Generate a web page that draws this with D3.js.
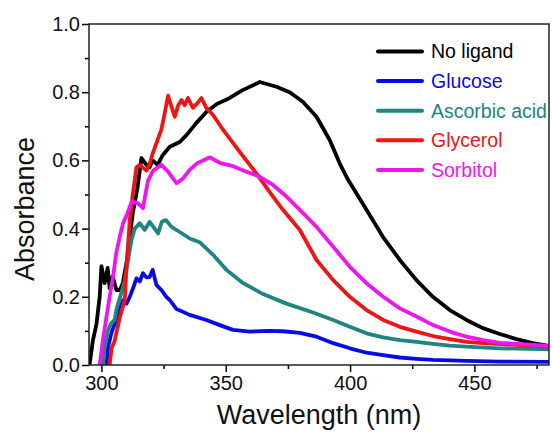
<!DOCTYPE html>
<html><head><meta charset="utf-8">
<script src="https://cdn.jsdelivr.net/npm/d3@7"></script>
<style>
html,body{margin:0;padding:0;background:#fff;}
svg{display:block;font-family:"Liberation Sans",Arial,sans-serif;}
</style></head>
<body><svg id="c" width="552" height="434"></svg>
<script>
// ---- data ----
const seriesNames = ["No ligand","Glucose","Ascorbic acid","Glycerol","Sorbitol"];
const seriesColors = ["#000000","#0a0ae6","#1e8580","#ee1515","#ee15ee"];

const noLigandWl  = [295.3,296.6,298.0,299.3,300.0,301.3,302.5,303.3,304.5,306.0,307.4,308.6,310.1,311.4,312.6,313.5,314.5,316.1,318.1,319.4,320.6,322.6,324.7,327.5,331.5,334.2,338.2,342.2,346.3,351.6,356.8,363.7,370.4,375.7,381.0,386.5,391.8,395.9,399.2,406.6,413.2,420.0,426.7,433.3,440.1,446.8,453.4,460.2,466.9,473.5,479.9];
const noLigandAbs = [0.005,0.073,0.12,0.20,0.29,0.24,0.285,0.225,0.26,0.22,0.22,0.24,0.30,0.375,0.445,0.48,0.52,0.607,0.587,0.58,0.60,0.587,0.616,0.64,0.654,0.674,0.71,0.742,0.765,0.783,0.806,0.83,0.816,0.80,0.772,0.728,0.66,0.59,0.543,0.455,0.376,0.308,0.249,0.20,0.161,0.132,0.108,0.091,0.076,0.064,0.056];

const glucoseWl  = [302.0,302.7,304.0,304.7,306.0,307.4,308.7,310.1,311.4,312.7,314.1,315.4,316.7,318.1,319.4,320.6,322.1,324.1,326.1,327.5,330.2,335.5,342.2,347.6,352.9,359.7,367.7,373.0,379.8,386.5,393.2,399.9,406.6,413.3,420.0,426.7,433.4,446.8,460.2,479.9];
const glucoseAbs = [0.0,0.054,0.093,0.108,0.132,0.168,0.19,0.18,0.20,0.225,0.254,0.245,0.269,0.257,0.258,0.279,0.235,0.22,0.20,0.19,0.164,0.147,0.132,0.117,0.103,0.098,0.10,0.099,0.094,0.083,0.064,0.049,0.036,0.029,0.022,0.018,0.015,0.012,0.010,0.009];

const ascorbicWl  = [300.6,301.3,302.7,304.0,305.3,306.0,306.7,308.0,309.4,310.7,312.1,313.4,315.4,317.4,319.4,321.4,322.8,324.3,325.9,328.2,331.5,335.5,339.5,344.9,350.3,357.0,365.0,374.4,385.1,393.2,399.9,406.6,413.3,420.0,426.7,433.4,440.1,446.8,460.2,479.9];
const ascorbicAbs = [0.0,0.054,0.103,0.123,0.132,0.161,0.18,0.21,0.25,0.308,0.367,0.40,0.416,0.396,0.42,0.40,0.386,0.42,0.425,0.405,0.39,0.371,0.36,0.323,0.279,0.24,0.208,0.18,0.154,0.132,0.112,0.093,0.081,0.073,0.068,0.062,0.057,0.054,0.049,0.046];

const glycerolWl  = [303.3,304.1,305.3,306.2,307.4,309.4,310.1,311.4,312.6,314.1,315.4,318.1,319.4,320.6,322.6,324.1,325.5,326.8,328.2,329.5,330.8,332.2,333.5,334.8,336.8,338.9,340.2,342.2,344.9,348.9,355.6,362.3,369.0,373.0,379.8,386.5,393.2,399.9,406.6,413.3,420.0,426.7,433.3,440.1,446.8,453.4,466.9,479.9];
const glycerolAbs = [0.0,0.05,0.07,0.10,0.14,0.19,0.29,0.425,0.50,0.58,0.587,0.57,0.59,0.62,0.66,0.69,0.74,0.79,0.757,0.728,0.76,0.777,0.762,0.783,0.754,0.77,0.783,0.754,0.733,0.69,0.625,0.562,0.494,0.455,0.396,0.308,0.249,0.20,0.161,0.132,0.112,0.098,0.085,0.076,0.068,0.064,0.059,0.054];

const sorbitolWl  = [299.3,300.6,302.0,303.3,304.7,306.0,307.4,308.7,310.2,312.2,314.7,316.7,318.7,320.8,324.1,326.8,330.2,332.8,335.5,338.2,340.9,343.6,347.6,352.9,358.3,363.7,369.0,374.4,379.8,386.5,393.2,399.9,406.6,413.3,420.0,426.7,433.4,440.1,446.8,453.5,460.2,466.9,479.9];
const sorbitolAbs = [0.0,0.073,0.14,0.20,0.26,0.33,0.376,0.416,0.44,0.48,0.474,0.46,0.54,0.57,0.587,0.567,0.533,0.547,0.572,0.59,0.60,0.609,0.593,0.583,0.567,0.552,0.528,0.494,0.455,0.405,0.347,0.288,0.24,0.20,0.166,0.142,0.117,0.098,0.083,0.073,0.065,0.062,0.056];

const xTicksMajor = [300,350,400,450];
const xTicksMinor = [325,375,425,475];
const yTicksMajor = [0.0,0.2,0.4,0.6,0.8,1.0];
const yTicksMinor = [0.1,0.3,0.5,0.7,0.9];
const xTitle = "Wavelength (nm)";
const yTitle = "Absorbance";

const seriesWl  = [noLigandWl, glucoseWl, ascorbicWl, glycerolWl, sorbitolWl];
const seriesAbs = [noLigandAbs, glucoseAbs, ascorbicAbs, glycerolAbs, sorbitolAbs];

// ---- layout ----
const L = 89, R = 549, T = 24, B = 365;
const svg = d3.select("#c");
const x = d3.scaleLinear().domain([295, 480]).range([L, R]);
const y = d3.scaleLinear().domain([0, 1]).range([B, T]);

svg.append("defs").append("clipPath").attr("id","clip")
  .append("rect").attr("x",L).attr("y",T).attr("width",R-L).attr("height",B-T);

const line = d3.line().x(d => x(d[0])).y(d => y(d[1]));
const g = svg.append("g").attr("clip-path","url(#clip)");
seriesNames.forEach((n,i) => {
  const pts = seriesWl[i].map((w,j) => [w, seriesAbs[i][j]]);
  g.append("path").datum(pts).attr("d", line)
   .attr("fill","none").attr("stroke", seriesColors[i])
   .attr("stroke-width",3.8).attr("stroke-linejoin","round").attr("stroke-linecap","round");
});

// axes
const fontTick = 20;
const xAx = svg.append("g").attr("transform",`translate(0,${B})`)
  .call(d3.axisBottom(x).tickValues(xTicksMajor).tickSize(7).tickPadding(4).tickFormat(d3.format("d")));
const xAxMin = svg.append("g").attr("transform",`translate(0,${B})`)
  .call(d3.axisBottom(x).tickValues(xTicksMinor).tickSize(4).tickFormat(""));
const yAx = svg.append("g").attr("transform",`translate(${L},0)`)
  .call(d3.axisLeft(y).tickValues(yTicksMajor).tickSize(7).tickPadding(2).tickFormat(d3.format(".1f")));
const yAxMin = svg.append("g").attr("transform",`translate(${L},0)`)
  .call(d3.axisLeft(y).tickValues(yTicksMinor).tickSize(4).tickFormat(""));
[xAx,xAxMin,yAx,yAxMin].forEach(a => {
  a.select(".domain").remove();
  a.selectAll("line").attr("stroke","#000").attr("stroke-width",1.5);
  a.selectAll("text").attr("font-size",fontTick).attr("fill","#111")
   .attr("font-family",'"Liberation Sans",Arial,sans-serif');
});
// frame
svg.append("rect").attr("x",L).attr("y",T).attr("width",R-L).attr("height",B-T)
  .attr("fill","none").attr("stroke","#222").attr("stroke-width",1.5);

// titles
svg.append("text").attr("x",(L+R)/2).attr("y",424).attr("text-anchor","middle")
  .attr("font-size",27).attr("fill","#111").text(xTitle);
svg.append("text").attr("transform","translate(34,209) rotate(-90)").attr("text-anchor","middle")
  .attr("font-size",27).attr("fill","#111").text(yTitle);

// legend
const legY0 = 51.5, legDy = 29.6;
seriesNames.forEach((n,i) => {
  const yy = legY0 + i*legDy;
  svg.append("line").attr("x1",378).attr("x2",422).attr("y1",yy).attr("y2",yy)
    .attr("stroke",seriesColors[i]).attr("stroke-width",4).attr("stroke-linecap","round");
  svg.append("text").attr("x",431).attr("y",yy).attr("dy","0.35em")
    .attr("font-size",19.5).attr("fill",seriesColors[i]).text(n);
});
</script></body></html>
